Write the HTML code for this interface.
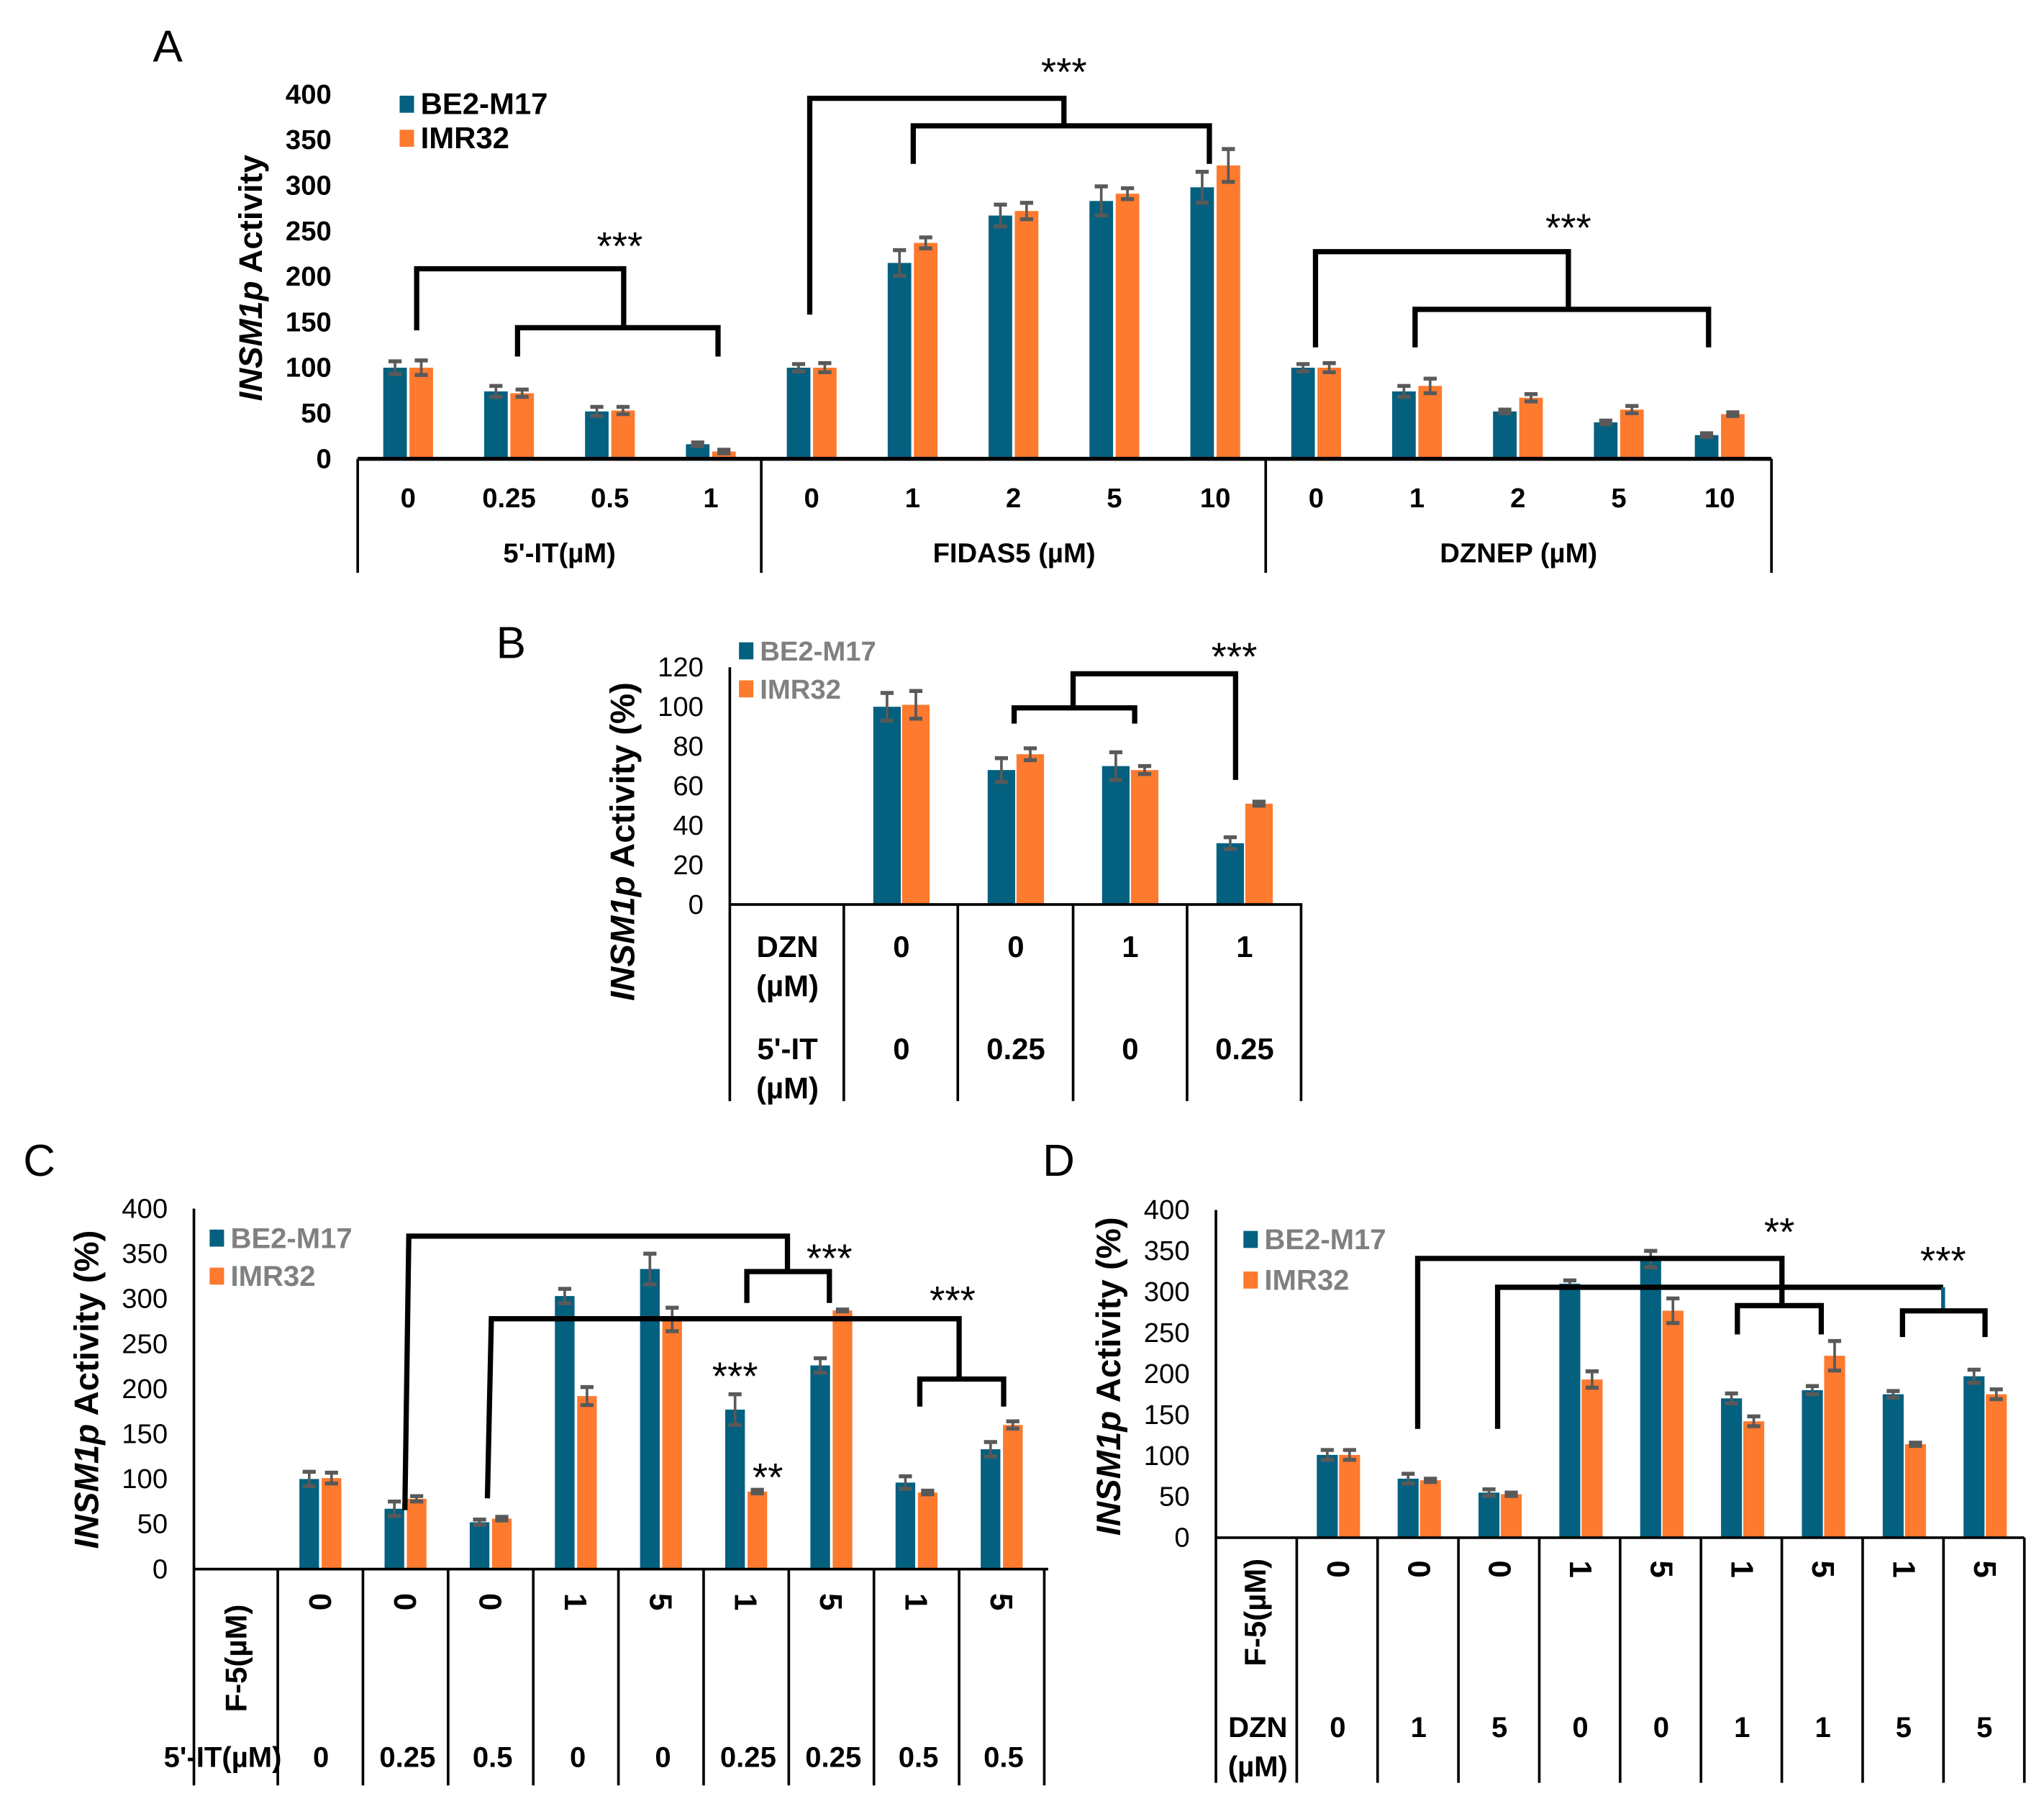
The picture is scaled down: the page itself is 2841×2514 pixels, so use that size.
<!DOCTYPE html>
<html><head><meta charset="utf-8">
<style>
html,body{margin:0;padding:0;background:#fff;}
svg{display:block;font-family:"Liberation Sans",Arial,sans-serif;}
</style></head>
<body>
<svg id="fig" width="2841" height="2514" viewBox="0 0 1560 1380" preserveAspectRatio="none" xmlns="http://www.w3.org/2000/svg">
<rect width="1560" height="1380" fill="#fff"/>
<g id="root"></g>
</svg>
<script>
// ---- Panel A data ----
const aCategories = ["0","0.25","0.5","1","0","1","2","5","10","0","1","2","5","10"];
const aGroups = ["5'-IT(\u00b5M)","FIDAS5 (\u00b5M)","DZNEP (\u00b5M)"];
const aBE2 = [100,74,52,16,100,215,267,283,298,100,74,52,40,26];
const aIMR = [100,72,53,8,100,237,272,291,322,100,80,67,54,49];
const aBE2Err = [7,6,5,2,4,14,12,16,17,4,6,2,2,2];
const aIMRErr = [8,4,4,2,5,6,9,6,18,5,8,4,4,2];
const aTicks = [0,50,100,150,200,250,300,350,400];
// ---- Panel B data ----
const bDZN = ["0","0","1","1"];
const bIT = ["0","0.25","0","0.25"];
const bBE2 = [100,68,70,31];
const bIMR = [101,76,68,51];
const bBE2Err = [7,6,7,3];
const bIMRErr = [7,3,2,1];
const bTicks = [0,20,40,60,80,100,120];
// ---- Panel C data ----
const cF5 = ["0","0","0","1","5","1","5","1","5"];
const cIT = ["0","0.25","0.5","0","0","0.25","0.25","0.5","0.5"];
const cBE2 = [100,67,52,303,333,177,226,96,133];
const cIMR = [101,78,56,192,277,86,287,85,160];
const cBE2Err = [8,8,3,8,17,17,8,7,8];
const cIMRErr = [6,3,2,10,13,2,1,2,4];
const cTicks = [0,50,100,150,200,250,300,350,400];
// ---- Panel D data ----
const dF5 = ["0","0","0","1","5","1","5","1","5"];
const dDZN = ["0","1","5","0","0","1","1","5","5"];
const dBE2 = [101,72,55,310,340,170,180,175,197];
const dIMR = [101,70,53,193,277,142,222,114,175];
const dBE2Err = [6,6,4,4,10,6,5,4,8];
const dIMRErr = [6,2,2,10,15,6,18,2,6];
const dTicks = [0,50,100,150,200,250,300,350,400];

const NS="http://www.w3.org/2000/svg";
const root=document.getElementById('root');
const BLUE="#04607f", ORANGE="#fd7a2f", ERR="#595959";
function el(tag,attrs,parent,text){
  const e=document.createElementNS(NS,tag);
  for(const k in attrs) e.setAttribute(k,attrs[k]);
  if(text!==undefined) e.textContent=text;
  (parent||root).appendChild(e);
  return e;
}
function grp(name){
  const g=el('g',{});
  
  
  return g;
}
function line(g,x1,y1,x2,y2,w,c){return el('line',{x1,y1,x2,y2,stroke:c||'#000','stroke-width':w||2},g);}
function txt(g,x,y,s,size,opts){
  opts=opts||{};
  const t=el('text',{x,y,'font-size':size,'text-anchor':opts.anchor||'middle','font-weight':opts.bold===false?'normal':'bold',fill:opts.fill||'#000'},g,s);
  if(opts.rot) t.setAttribute('transform',`rotate(${opts.rot} ${x} ${y})`);
  if(opts.central) t.setAttribute('dominant-baseline','central');
  return t;
}
function ytitle(g,x,y,size,suffix){
  const t=el('text',{x,y,'font-size':size,'text-anchor':'middle','font-weight':'bold',transform:`rotate(-90 ${x} ${y})`},g);
  el('tspan',{'font-style':'italic'},t,'INSM1p');
  el('tspan',{},t,' Activity'+suffix);
  
  
}
function bars(g,n,xc,yS,be,im,beE,imE,bw,offB,offI){
  for(let i=0;i<n;i++){
    const c=xc(i);
    [[be[i],beE[i],offB,BLUE,'bar-be2-m17'],[im[i],imE[i],offI,ORANGE,'bar-imr32']].forEach(([v,e,o,col,nm])=>{
      const x=c+o;
      const r=el('rect',{x:x-bw/2,y:yS(v),width:bw,height:yS(0)-yS(v),fill:col},g);
      
      
      const eb=el('g',{},g);
      
      
      line(eb,x,yS(v+e),x,yS(v-e),2,ERR);
      line(eb,x-5,yS(v+e),x+5,yS(v+e),3,ERR);
      line(eb,x-5,yS(v-e),x+5,yS(v-e),3,ERR);
    });
  }
}
function legend(g,x,y1,y2,size,gray){
  const f=gray?'#808080':'#000';
  const l1=el('g',{},g);
  
  
  el('rect',{x,y:y1-14,width:11,height:13,fill:BLUE},l1);
  txt(l1,x+16,y1,'BE2-M17',size,{anchor:'start',fill:f});
  const l2=el('g',{},g);
  
  
  el('rect',{x,y:y2-14,width:11,height:13,fill:ORANGE},l2);
  txt(l2,x+16,y2,'IMR32',size,{anchor:'start',fill:f});
}
function bracket(g,pts){
  el('polyline',{points:pts.map(p=>p.join(',')).join(' '),fill:'none',stroke:'#000','stroke-width':4},g);
}
function stars(g,x,y,s){txt(g,x,y,s,30,{bold:false});}

// ===== Panel A =====
(function(){
  const g=grp('panel-a');
  const x0=273,y0=350,yTop=72;
  const yS=v=>y0-(v/400)*(y0-yTop);
  const xc=i=>x0+38.5+77*i;
  txt(g,128,47,'A',34,{bold:false});
  aTicks.forEach(t=>txt(g,253,yS(t)+7,String(t),21,{anchor:'end'}));
  ytitle(g,200,212,25,'');
  bars(g,aCategories.length,xc,yS,aBE2,aIMR,aBE2Err,aIMRErr,18,-10,10);
  line(g,x0,y0,1352,y0,3);
  [273,581,966,1352].forEach(x=>line(g,x,y0,x,437,2));
  aCategories.forEach((c,i)=>txt(g,xc(i),387,c,21));
  const gc=[427,774,1159];
  aGroups.forEach((s,i)=>txt(g,gc[i],429,s,21));
  legend(g,305,87,113,23,false);
  bracket(g,[[318,252],[318,205],[476,205],[476,250]]);
  bracket(g,[[395,272],[395,250],[548,250],[548,272]]);
  stars(g,473,198,'***');
  bracket(g,[[618,240],[618,75],[812,75],[812,96]]);
  bracket(g,[[697,125],[697,96],[923,96],[923,125]]);
  stars(g,812,65,'***');
  bracket(g,[[1004,265],[1004,192],[1197,192],[1197,236]]);
  bracket(g,[[1080,265],[1080,236],[1304,236],[1304,265]]);
  stars(g,1197,184,'***');
})();

// ===== Panel B =====
(function(){
  const g=grp('panel-b');
  const x0=557,y0=690,yTop=509;
  const yS=v=>y0-(v/120)*(y0-yTop);
  const xc=i=>688+87.3*i;
  txt(g,390,502,'B',34,{bold:false});
  bTicks.forEach(t=>txt(g,537,yS(t)+7,String(t),21,{anchor:'end',bold:false}));
  ytitle(g,484,642,26,' (%)');
  bars(g,4,xc,yS,bBE2,bIMR,bBE2Err,bIMRErr,21,-11,11);
  line(g,x0,y0,994,y0,2);
  line(g,x0,yTop,x0,y0,2);
  [557,644,731,819,906,993].forEach(x=>line(g,x,y0,x,840,2));
  txt(g,601,730,'DZN',23);txt(g,601,760,'(\u00b5M)',23);
  txt(g,601,808,"5'-IT",23);txt(g,601,838,'(\u00b5M)',23);
  bDZN.forEach((s,i)=>txt(g,xc(i),730,s,23));
  bIT.forEach((s,i)=>txt(g,xc(i),808,s,23));
  legend(g,564,504,533,21,true);
  bracket(g,[[774,552],[774,540],[866,540],[866,552]]);
  bracket(g,[[819,540],[819,514],[943,514],[943,595]]);
  stars(g,942,511,'***');
})();

// ===== Panel C =====
(function(){
  const g=grp('panel-c');
  const x0=148,y0=1197,yTop=922;
  const yS=v=>y0-(v/400)*(y0-yTop);
  const xc=i=>244+65*i;
  txt(g,30,897,'C',34,{bold:false});
  cTicks.forEach(t=>txt(g,128,yS(t)+7,String(t),21,{anchor:'end',bold:false}));
  ytitle(g,75,1060,26,' (%)');
  bars(g,9,xc,yS,cBE2,cIMR,cBE2Err,cIMRErr,15,-8,9);
  line(g,x0,y0,800,y0,2);
  line(g,x0,yTop,x0,1362,2);
  for(let k=1;k<=10;k++) line(g,147+65*k,y0,147+65*k,1362,2);
  txt(g,180,1265,'F-5(\u00b5M)',23,{rot:-90,central:true});
  cF5.forEach((s,i)=>txt(g,xc(i),1222,s,24,{rot:90,central:true}));
  txt(g,170,1348,"5'-IT(\u00b5M)",22);
  cIT.forEach((s,i)=>txt(g,i===0?245:xc(i)+2,1348,s,22));
  legend(g,160,952,981,22,true);
  bracket(g,[[309,1152],[312,943],[601,943],[601,970]]);
  bracket(g,[[570,994],[570,970],[633,970],[633,994]]);
  stars(g,633,970,'***');
  bracket(g,[[372,1143],[375,1006],[732,1006],[732,1052]]);
  bracket(g,[[702,1073],[702,1052],[766,1052],[766,1073]]);
  stars(g,727,1002,'***');
  stars(g,561,1060,'***');
  stars(g,586,1137,'**');
})();

// ===== Panel D =====
(function(){
  const g=grp('panel-d');
  const x0=928,y0=1173,yTop=923;
  const yS=v=>y0-(v/400)*(y0-yTop);
  const xc=i=>1021+61.7*i;
  txt(g,808,897,'D',34,{bold:false});
  dTicks.forEach(t=>txt(g,908,yS(t)+7,String(t),21,{anchor:'end',bold:false}));
  ytitle(g,855,1050,26,' (%)');
  bars(g,9,xc,yS,dBE2,dIMR,dBE2Err,dIMRErr,16,-8,9);
  line(g,x0,y0,1545,y0,2);
  line(g,x0,yTop,x0,1360,2);
  for(let k=1;k<=10;k++) line(g,928+61.7*k,y0,928+61.7*k,1360,2);
  txt(g,958,1230,'F-5(\u00b5M)',23,{rot:-90,central:true});
  dF5.forEach((s,i)=>txt(g,xc(i),1197,s,24,{rot:90,central:true}));
  txt(g,960,1325,'DZN',22);txt(g,960,1355,'(\u00b5M)',22);
  dDZN.forEach((s,i)=>txt(g,xc(i),1325,s,22));
  legend(g,949,953,984,22,true);
  bracket(g,[[1082,1090],[1082,960],[1360,960],[1360,996]]);
  bracket(g,[[1326,1018],[1326,996],[1390,996],[1390,1018]]);
  stars(g,1358,950,'**');
  bracket(g,[[1143,1090],[1143,982],[1483,982]]);
  line(g,1483,982,1483,1000,3,BLUE);
  bracket(g,[[1452,1020],[1452,1000],[1515,1000],[1515,1020]]);
  stars(g,1483,972,'***');
})();
</script>
</body></html>
